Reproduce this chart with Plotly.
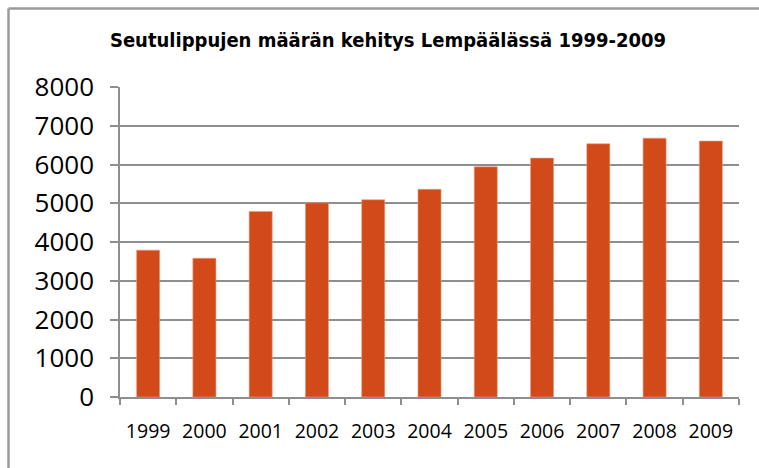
import plotly.graph_objects as go

years = ["1999", "2000", "2001", "2002", "2003", "2004", "2005", "2006", "2007", "2008", "2009"]
counts = [3790, 3580, 4790, 5010, 5090, 5360, 5940, 6165, 6535, 6680, 6605]
y_ticks = [0, 1000, 2000, 3000, 4000, 5000, 6000, 7000, 8000]
title_text = "Seutulippujen määrän kehitys Lempäälässä 1999-2009"

W, H = 759, 468
L, T = 120, 87
R, B = W - 739, H - 397
pw, ph = W - L - R, H - T - B

def px_x(p):
    return (p - L) / pw

def px_y(p):
    return (H - B - p) / ph

fig = go.Figure(go.Bar(
    x=years, y=counts,
    marker=dict(color="#D2491A", line=dict(color="#E8A080", width=0.6)),
    width=0.41,
))

GRID = "#8E8E8E"
BORDER = dict(color="#9A9A9A", width=2.5)
fig.update_layout(
    width=W, height=H,
    margin=dict(l=L, r=R, t=T, b=B),
    paper_bgcolor="white", plot_bgcolor="white",
    showlegend=False,
    title=dict(text="<b>" + title_text + "</b>", x=px_x(388), xref="paper", xanchor="center",
               y=1 - 40 / H, yanchor="middle",
               font=dict(family="Liberation Sans Narrow, DejaVu Sans Condensed, sans-serif", size=20, color="black")),
    xaxis=dict(type="category", tickson="boundaries", ticks="outside", ticklen=6, tickcolor=GRID,
               tickwidth=1.5, showline=True, linecolor=GRID, linewidth=1.5, showgrid=False,
               tickfont=dict(family="Open Sans, sans-serif", size=19.5, color="black"),
               ticklabelstandoff=16,
               range=[-0.5, 10.5]),
    yaxis=dict(range=[0, 8000], tickvals=y_ticks, ticks="outside", ticklen=8, tickcolor=GRID,
               tickwidth=1.5, showline=True, linecolor=GRID, linewidth=1.5,
               showgrid=True, gridcolor=GRID, gridwidth=1.5, zeroline=False,
               tickfont=dict(family="Open Sans, sans-serif", size=26, color="black"),
               ticklabelstandoff=11),
    shapes=[
        dict(type="line", xref="paper", yref="paper", x0=px_x(8.5), x1=px_x(8.5),
             y0=px_y(8.5), y1=px_y(H), line=BORDER, layer="below"),
        dict(type="line", xref="paper", yref="paper", x0=px_x(8.5), x1=px_x(W),
             y0=px_y(8.5), y1=px_y(8.5), line=BORDER, layer="below"),
    ],
)

reset_css = ("document.documentElement.style.margin='0';document.body.style.margin='0';"
             "document.documentElement.style.overflow='hidden';document.body.style.overflow='hidden';")
fig.write_html("out.html", config={"displayModeBar": False}, post_script=reset_css)
